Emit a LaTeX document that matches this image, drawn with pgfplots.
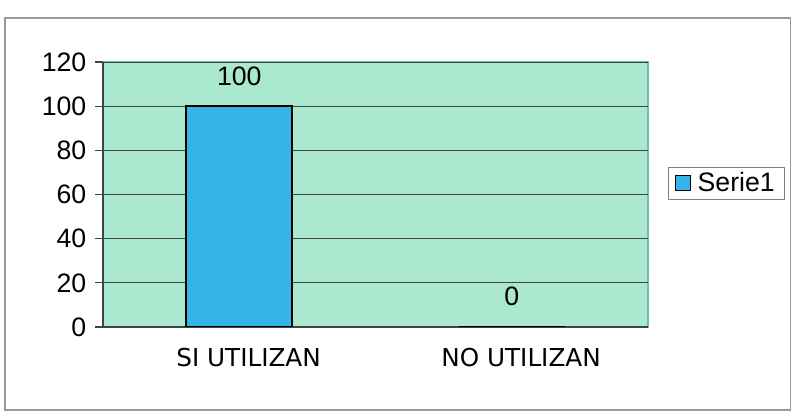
\documentclass[border=0pt]{standalone}
\usepackage{fontspec}
\setmainfont{Liberation Sans}
\newfontfamily\dejavu{DejaVu Sans}
\usepackage{pgfplots}
\pgfplotsset{compat=1.18}
\definecolor{bgc}{RGB}{170,232,208}
\definecolor{bordc}{RGB}{110,190,160}
\definecolor{barc}{RGB}{52,180,232}
\definecolor{gridc}{RGB}{60,70,65}
\begin{document}
\begin{tikzpicture}
\useasboundingbox (0,0) rectangle (594pt,312pt);
\fill[white] (0,0) rectangle (594pt,312pt);
\draw[gray!80, line width=0.8pt] (3.75pt,4.5pt) rectangle (593pt,298.5pt);
\begin{axis}[
  at={(77.25pt,66.75pt)}, anchor=south west,
  scale only axis, width=408.75pt, height=198.75pt,
  xmin=-0.5, xmax=1.5, ymin=0, ymax=120,
  axis lines=left, axis line style={-, draw=gridc, line width=0.8pt},
  axis background/.style={fill=bgc, draw=bordc, line width=0.8pt},
  ytick={0,20,...,120},
  ymajorgrids, major grid style={draw=gridc, line width=0.6pt},
  tick style={draw=gridc, line width=0.8pt},
  y tick label style={font=\fontsize{20}{22}\selectfont, xshift=-3pt},
  major tick length=6pt,
  ytick pos=left, yticklabel pos=left,
  tick align=outside,
  /pgf/number format/assume math mode=true,
  xtick={0,1}, xticklabels={SI UTILIZAN, NO UTILIZAN},
  x tick style={draw=none},
  x tick label style={font=\dejavu\fontsize{18.5}{20}\selectfont, yshift=-6pt, xshift=7pt},
  extra x ticks={-0.5,0.5,1.5}, extra x tick labels={},
  extra x tick style={tick style={draw=gridc, line width=0.8pt}, major tick length=7pt},
  ybar, bar width=79.5pt,
  nodes near coords,
  every node near coord/.append style={font=\fontsize{20}{22}\selectfont, anchor=south, inner sep=0pt, yshift=15pt},
  legend style={at={(1.037,0.543)}, anchor=west, draw=gray, line width=0.6pt,
    font=\fontsize{20}{24}\selectfont, inner xsep=5pt, inner ysep=2pt},
  legend image code/.code={\draw[fill=barc, draw=black, line width=0.8pt] (0pt,-5.5pt) rectangle (11pt,5.5pt);},
]
\addplot[fill=barc, draw=black, line width=1.2pt] coordinates {(0,100) (1,0)};
\legend{\hspace*{3pt}Serie1}
\end{axis}
\end{tikzpicture}
\end{document}
